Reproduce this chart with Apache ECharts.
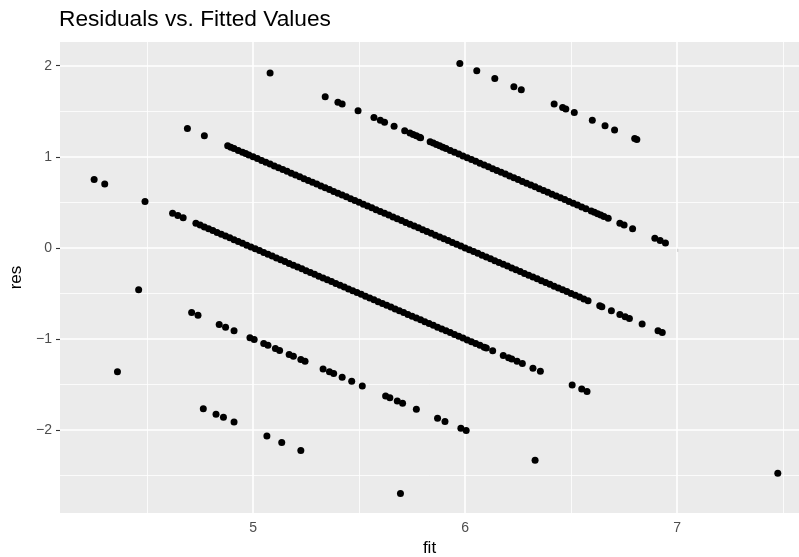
<!DOCTYPE html>
<html>
<head>
<meta charset="utf-8">
<title>Residuals vs. Fitted Values</title>
<script src="https://cdn.jsdelivr.net/npm/echarts@6/dist/echarts.min.js"></script>
<style>
    html, body { margin: 0; padding: 0; background: #ffffff; }
    #main { width: 799px; height: 557px; }
</style>
</head>
<body>
<div id="main"></div>
<script>
// points, grouped by the diagonal band they sit on
var bandY3 = [[4.36,-1.36],[4.765,-1.765],[4.825,-1.825],[4.86,-1.86],[4.91,-1.91],[5.065,-2.065],[5.135,-2.135],[5.225,-2.225],[5.695,-2.695]];

var bandY4 = [[4.46,-0.46],[4.71,-0.71],[4.74,-0.74],[4.84,-0.84],[4.87,-0.87],[4.91,-0.91],[4.985,-0.985],[5.005,-1.005],
    [5.05,-1.05],[5.07,-1.07],[5.105,-1.105],[5.125,-1.125],[5.17,-1.17],[5.19,-1.19],[5.225,-1.225],[5.245,-1.245],
    [5.33,-1.33],[5.36,-1.36],[5.38,-1.38],[5.42,-1.42],[5.465,-1.465],[5.515,-1.515],[5.625,-1.625],[5.645,-1.645],
    [5.68,-1.68],[5.705,-1.705],[5.77,-1.77],[5.87,-1.87],[5.905,-1.905],[5.98,-1.98],[6.005,-2.005],[6.33,-2.33]];

var bandY5 = [[4.25,0.75],[4.30,0.70],[4.49,0.51],[4.62,0.38],[4.645,0.355],[4.67,0.33],
    [4.73,0.27],[4.75,0.25],[4.77,0.23],[4.79,0.21],[4.81,0.19],[4.83,0.17],[4.85,0.15],[4.87,0.13],[4.89,0.11],[4.91,0.09],
    [4.93,0.07],[4.95,0.05],[4.97,0.03],[4.99,0.01],[5.01,-0.01],[5.03,-0.03],[5.05,-0.05],[5.07,-0.07],[5.09,-0.09],[5.11,-0.11],
    [5.13,-0.13],[5.15,-0.15],[5.17,-0.17],[5.19,-0.19],[5.21,-0.21],[5.23,-0.23],[5.25,-0.25],[5.27,-0.27],[5.29,-0.29],[5.31,-0.31],
    [5.33,-0.33],[5.35,-0.35],[5.37,-0.37],[5.39,-0.39],[5.41,-0.41],[5.43,-0.43],[5.45,-0.45],[5.47,-0.47],[5.49,-0.49],[5.51,-0.51],
    [5.53,-0.53],[5.55,-0.55],[5.57,-0.57],[5.59,-0.59],[5.61,-0.61],[5.63,-0.63],[5.65,-0.65],[5.67,-0.67],[5.69,-0.69],[5.71,-0.71],
    [5.73,-0.73],[5.75,-0.75],[5.77,-0.77],[5.79,-0.79],[5.81,-0.81],[5.83,-0.83],[5.85,-0.85],[5.87,-0.87],[5.89,-0.89],[5.91,-0.91],
    [5.93,-0.93],[5.95,-0.95],[5.97,-0.97],[5.99,-0.99],[6.01,-1.01],[6.03,-1.03],[6.05,-1.05],[6.07,-1.07],[6.09,-1.09],
    [6.10,-1.10],[6.13,-1.13],[6.18,-1.18],[6.205,-1.205],[6.22,-1.22],[6.245,-1.245],[6.27,-1.27],[6.32,-1.32],[6.355,-1.355],
    [6.505,-1.505],[6.55,-1.55],[6.575,-1.575],[7.475,-2.475]];

var bandY6 = [[4.69,1.31],[4.77,1.23],[4.88,1.12],[4.895,1.105],[4.91,1.09],[4.93,1.07],[4.95,1.05],[4.965,1.035],[4.98,1.02],
    [5.00,1.00],[5.02,0.98],[5.04,0.96],[5.06,0.94],[5.08,0.92],[5.10,0.90],[5.12,0.88],[5.14,0.86],[5.16,0.84],[5.18,0.82],
    [5.20,0.80],[5.22,0.78],[5.24,0.76],[5.26,0.74],[5.28,0.72],[5.30,0.70],[5.32,0.68],[5.34,0.66],[5.36,0.64],[5.38,0.62],
    [5.40,0.60],[5.42,0.58],[5.44,0.56],[5.46,0.54],[5.48,0.52],[5.50,0.50],[5.52,0.48],[5.54,0.46],[5.56,0.44],[5.58,0.42],
    [5.60,0.40],[5.62,0.38],[5.64,0.36],[5.66,0.34],[5.68,0.32],[5.70,0.30],[5.72,0.28],[5.74,0.26],[5.76,0.24],[5.78,0.22],
    [5.80,0.20],[5.82,0.18],[5.84,0.16],[5.86,0.14],[5.88,0.12],[5.90,0.10],[5.92,0.08],[5.94,0.06],[5.96,0.04],[5.98,0.02],
    [6.00,0.00],[6.02,-0.02],[6.04,-0.04],[6.06,-0.06],[6.08,-0.08],[6.10,-0.10],[6.12,-0.12],[6.14,-0.14],[6.16,-0.16],[6.18,-0.18],
    [6.20,-0.20],[6.22,-0.22],[6.24,-0.24],[6.26,-0.26],[6.28,-0.28],[6.30,-0.30],[6.32,-0.32],[6.34,-0.34],[6.36,-0.36],[6.38,-0.38],
    [6.40,-0.40],[6.42,-0.42],[6.44,-0.44],[6.46,-0.46],[6.48,-0.48],[6.50,-0.50],[6.52,-0.52],[6.54,-0.54],[6.56,-0.56],[6.58,-0.58],
    [6.635,-0.635],[6.645,-0.645],[6.69,-0.69],[6.73,-0.73],[6.755,-0.755],[6.775,-0.775],[6.835,-0.835],[6.91,-0.91],[6.93,-0.93]];

var bandY7 = [[5.08,1.92],[5.34,1.66],[5.40,1.60],[5.42,1.58],[5.495,1.505],[5.57,1.43],[5.60,1.40],[5.62,1.38],[5.665,1.335],
    [5.715,1.285],[5.74,1.26],[5.755,1.245],[5.77,1.23],[5.785,1.215],[5.79,1.21],[5.835,1.165],[5.85,1.15],[5.865,1.135],
    [5.88,1.12],[5.895,1.105],
    [5.91,1.09],[5.93,1.07],[5.95,1.05],[5.97,1.03],[5.99,1.01],[6.01,0.99],[6.03,0.97],[6.05,0.95],[6.07,0.93],[6.09,0.91],
    [6.11,0.89],[6.13,0.87],[6.15,0.85],[6.17,0.83],[6.19,0.81],[6.21,0.79],[6.23,0.77],[6.25,0.75],[6.27,0.73],[6.29,0.71],
    [6.31,0.69],[6.33,0.67],[6.35,0.65],[6.37,0.63],[6.39,0.61],[6.41,0.59],[6.43,0.57],[6.45,0.55],[6.47,0.53],[6.49,0.51],
    [6.51,0.49],[6.53,0.47],[6.55,0.45],[6.57,0.43],
    [6.595,0.405],[6.61,0.39],[6.625,0.375],[6.64,0.36],[6.655,0.345],[6.675,0.325],[6.73,0.27],[6.75,0.25],[6.79,0.21],
    [6.895,0.105],[6.92,0.08],[6.945,0.055]];

var bandY8 = [[5.975,2.025],[6.055,1.945],[6.14,1.86],[6.23,1.77],[6.265,1.735],[6.42,1.58],[6.46,1.54],[6.475,1.525],
    [6.515,1.485],[6.60,1.40],[6.66,1.34],[6.705,1.295],[6.80,1.20],[6.81,1.19]];

// axis breaks, as ggplot draws them
var xMajor = [5, 6, 7];
var xMinor = [4.5, 5.5, 6.5, 7.5];
var yMajor = [-2, -1, 0, 1, 2];
var yMinor = [-2.5, -1.5, -0.5, 0.5, 1.5];
var xRange = [4.089, 7.575];
var yRange = [-2.91, 2.26];

(function (window) {
    var chart = echarts.init(document.getElementById('main'), null, { renderer: 'canvas' });

    var gridLine = function (axis, values, width) {
        return values.map(function (v) {
            var d = {};
            d[axis] = v;
            d.lineStyle = { color: '#ffffff', width: width, type: 'solid' };
            return d;
        });
    };
    var minus = function (v) {
        return String(v).replace('-', '\u2212');
    };

    var allPoints = [].concat(bandY3, bandY4, bandY5, bandY6, bandY7, bandY8);

    var option = {
        animation: false,
        backgroundColor: '#ffffff',
        textStyle: { fontFamily: 'Liberation Sans, Arial, sans-serif' },
        title: {
            text: 'Residuals vs. Fitted Values',
            left: 59,
            top: 8,
            padding: 0,
            textStyle: { fontSize: 22.7, fontWeight: 'normal', color: '#000000' }
        },
        grid: {
            left: 60, right: 0, top: 42, bottom: 44,
            outerBoundsMode: 'none',
            containLabel: false,
            show: true, backgroundColor: '#EBEBEB', borderWidth: 0
        },
        xAxis: {
            type: 'value',
            min: xRange[0], max: xRange[1],
            name: 'fit', nameLocation: 'middle', nameGap: 26,
            nameTextStyle: { fontSize: 17, color: '#000000' },
            axisLine: { show: false },
            splitLine: { show: false },
            axisTick: { show: true, length: 4, customValues: xMajor, lineStyle: { color: '#333333', width: 1.1 } },
            axisLabel: { customValues: xMajor, margin: 8, fontSize: 14, color: '#4D4D4D', formatter: minus }
        },
        yAxis: {
            type: 'value',
            min: yRange[0], max: yRange[1],
            name: 'res', nameLocation: 'middle', nameGap: 33,
            nameTextStyle: { fontSize: 17, color: '#000000' },
            axisLine: { show: false },
            splitLine: { show: false },
            axisTick: { show: true, length: 4, customValues: yMajor, lineStyle: { color: '#333333', width: 1.1 } },
            axisLabel: { customValues: yMajor, margin: 8, fontSize: 14, color: '#4D4D4D', formatter: minus }
        },
        series: [{
            // panel grid lines, kept under the points
            type: 'line',
            data: [],
            z: 1,
            silent: true,
            markLine: {
                z: 1,
                silent: true,
                symbol: ['none', 'none'],
                label: { show: false },
                animation: false,
                data: [].concat(
                    gridLine('xAxis', xMinor, 0.8),
                    gridLine('yAxis', yMinor, 0.8),
                    gridLine('xAxis', xMajor, 1.6),
                    gridLine('yAxis', yMajor, 1.6)
                )
            }
        }, {
            name: 'res',
            type: 'scatter',
            z: 10,
            symbol: 'circle',
            symbolSize: 7,
            itemStyle: { color: '#000000', opacity: 1 },
            data: allPoints
        }]
    };
    chart.setOption(option);
})(window);
</script>
</body>
</html>
